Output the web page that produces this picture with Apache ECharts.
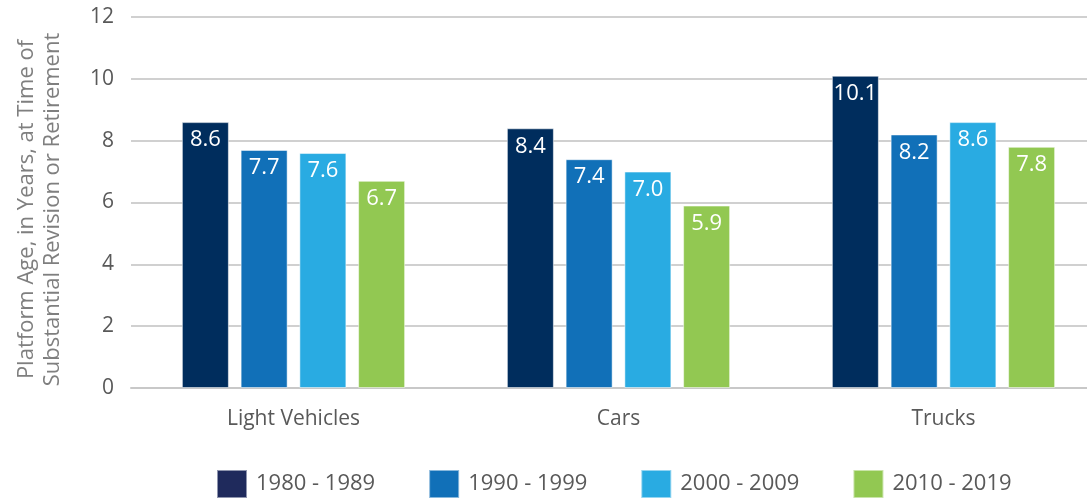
<!DOCTYPE html>
<html>
<head>
<meta charset="utf-8">
<script src="https://cdn.jsdelivr.net/npm/echarts@6/dist/echarts.min.js"></script>
<style>
  html, body { margin: 0; padding: 0; background: #fff; }
  #chart { width: 1087px; height: 499px; }
</style>
</head>
<body>
<div id="chart"></div>
<script>
// 数据
const categories = ['Light Vehicles', 'Cars', 'Trucks'];
const decades = ['1980 - 1989', '1990 - 1999', '2000 - 2009', '2010 - 2019'];
const values1980s = [8.6, 8.4, 10.1];
const values1990s = [7.7, 7.4, 8.2];
const values2000s = [7.6, 7.0, 8.6];
const values2010s = [6.7, 5.9, 7.8];
const yTicks = [0, 2, 4, 6, 8, 10, 12];

const barColors = ['#002D5D', '#1170B8', '#29ABE2', '#92C852'];
const legendColors = ['#1F2A5C', '#1170B8', '#29ABE2', '#92C852'];
const seriesValues = [values1980s, values1990s, values2000s, values2010s];
const textGray = '#595959';
const font = '"Open Sans", "Noto Sans", sans-serif';

const chart = echarts.init(document.getElementById('chart'), null, { renderer: 'canvas' });

const option = {
  animation: false,
  textStyle: { fontFamily: font },
  // 网格右侧超出画布（原图被裁切）
  grid: { left: 131, width: 975, top: 17, bottom: 111, outerBoundsMode: 'none' },
  legend: {
    left: 216,
    top: 469,
    padding: 0,
    itemWidth: 30,
    itemHeight: 28,
    itemGap: 53,
    icon: 'rect',
    textStyle: { fontFamily: font, fontSize: 22, color: textGray, padding: [0, 0, 0, 4] },
    data: decades.map((d, i) => ({ name: d, itemStyle: { color: legendColors[i] } }))
  },
  xAxis: {
    type: 'category',
    data: categories,
    axisLine: { lineStyle: { color: '#C8C8C8', width: 2 } },
    axisTick: { show: false },
    axisLabel: { color: textGray, fontSize: 21, margin: 21, fontFamily: font }
  },
  yAxis: {
    type: 'value',
    min: yTicks[0],
    max: yTicks[yTicks.length - 1],
    interval: 2,
    name: 'Platform Age, in Years, at Time of\nSubstantial Revision or Retirement',
    nameLocation: 'middle',
    nameGap: 65,
    nameTextStyle: { color: '#7F7F7F', fontSize: 22, lineHeight: 26, fontFamily: font, padding: [0, 14, 0, 0] },
    axisLine: { show: false },
    axisTick: { show: false },
    axisLabel: { color: textGray, fontSize: 21, margin: 17, fontFamily: font },
    splitLine: { lineStyle: { color: '#D0D0D0', width: 2 } }
  },
  series: decades.map((d, i) => ({
    name: d,
    type: 'bar',
    data: seriesValues[i],
    barWidth: 47,
    barGap: '25%',
    itemStyle: { color: barColors[i], borderColor: 'rgba(255,255,255,0.5)', borderWidth: 1 },
    label: {
      show: true,
      position: 'insideTop',
      distance: 7,
      color: '#fff',
      fontSize: 22,
      fontFamily: font,
      formatter: p => p.value.toFixed(1)
    }
  }))
};

chart.setOption(option);
</script>
</body>
</html>
